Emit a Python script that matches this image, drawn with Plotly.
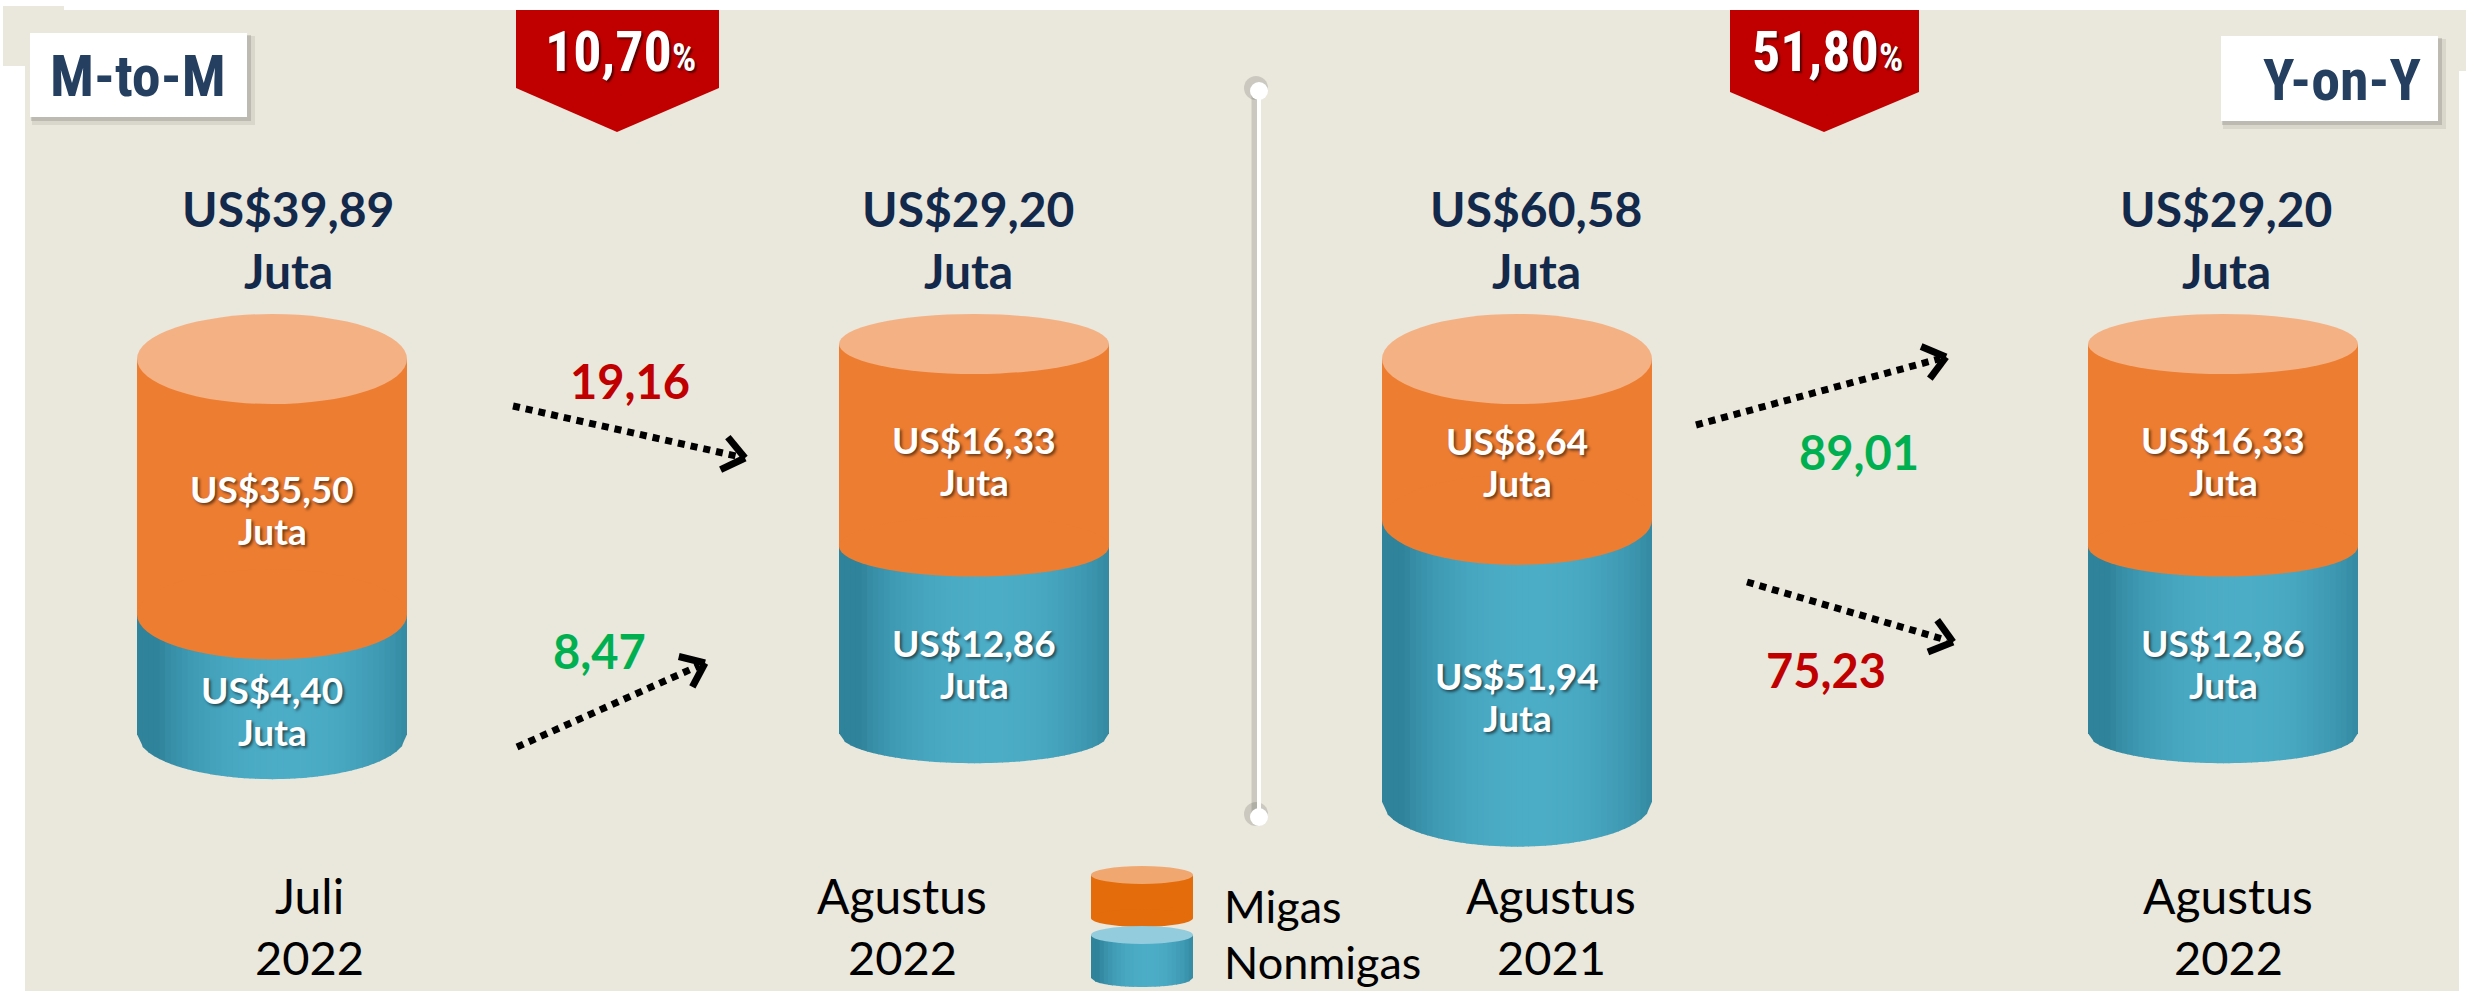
import math
import plotly.graph_objects as go

# ---------------- data ----------------
periods = ["Juli", "Agustus", "Agustus", "Agustus"]
years = ["2022", "2022", "2021", "2022"]
migas = [35.50, 16.33, 8.64, 16.33]          # US$ juta
nonmigas = [4.40, 12.86, 51.94, 12.86]       # US$ juta
totals = [39.89, 29.20, 60.58, 29.20]        # US$ juta
series_names = ["Migas", "Nonmigas"]
comparisons = ["M-to-M", "Y-on-Y"]
total_change = [10.70, 51.80]                # both decreases
change_values = [19.16, 8.47, 89.01, 75.23]  # M2M migas, M2M nonmigas, YoY migas, YoY nonmigas
change_up = [False, True, True, False]

# ---------------- layout constants (positions / styles) ----------------
W, H = 2466, 991
BG = "#EAE7DC"
NAVY = "#13294B"
BOX_NAVY = "#243F60"
RED = "#C00000"
GREEN = "#00B050"
OR_SIDE = "#ED7D31"
OR_TOP = "#F4B183"
TEAL_DARK = (47, 131, 155)
TEAL_LIGHT = (76, 173, 199)
LATO = "Lato, 'Open Sans', sans-serif"
NARROW = "'Liberation Sans Narrow', 'Arial Narrow', 'Roboto Condensed', Lato, sans-serif"

CYL_CX = [272, 974, 1517, 2223]
CYL_RX = 135
CYL_RY = [45, 30, 45, 30]
CYL_TOP = 314           # top edge of the cylinders
LOG_SCALE = 71          # px per ln(1 + US$ juta)
HEAD_X = [288, 968, 1536, 2226]
CAT_X = [309, 902, 1551, 2228]

shapes = []
ann = []
fig = go.Figure()


def fmt(v):
    return f"{v:.2f}".replace(".", ",")


def seg_height(v):
    return LOG_SCALE * math.log1p(v)


def rect(x0, y0, x1, y1, color):
    shapes.append(dict(type="rect", xref="x", yref="y", x0=x0, y0=y0, x1=x1, y1=y1,
                       fillcolor=color, line=dict(width=0), layer="below"))


def ellipse(cx, cy, rx, ry, color):
    shapes.append(dict(type="circle", xref="x", yref="y", x0=cx - rx, x1=cx + rx,
                       y0=cy - ry, y1=cy + ry, fillcolor=color, line=dict(width=0), layer="below"))


def path(d, color):
    shapes.append(dict(type="path", xref="x", yref="y", path=d, fillcolor=color,
                       line=dict(width=0), layer="below"))


def teal_color(u):
    t = max(0.0, 1.0 - ((u - 0.55) / 0.47) ** 2)
    t = t ** 0.8
    c = [round(a + (b - a) * t) for a, b in zip(TEAL_DARK, TEAL_LIGHT)]
    return f"rgb({c[0]},{c[1]},{c[2]})"


def teal_body(cx, rx, ry, y_top, y_bot, n=48):
    for i in range(n):
        xa = cx - rx + 2 * rx * i / n
        xb = cx - rx + 2 * rx * (i + 1) / n
        xb2 = min(xb + 0.8, cx + rx)
        ya = y_bot + ry * math.sqrt(max(0.0, 1 - ((xa - cx) / rx) ** 2))
        yb = y_bot + ry * math.sqrt(max(0.0, 1 - ((xb2 - cx) / rx) ** 2))
        d = f"M{xa:.2f},{y_top:.2f} L{xb2:.2f},{y_top:.2f} L{xb2:.2f},{yb:.2f} L{xa:.2f},{ya:.2f} Z"
        path(d, teal_color((i + 0.5) / n))


def text(x, y, s, size, color, family=LATO, bold=False, shadow=None, xanchor="center"):
    font = dict(size=size, color=color, family=family)
    if shadow:
        font["shadow"] = shadow
    ann.append(dict(x=x, y=y, xref="x", yref="y", text=f"<b>{s}</b>" if bold else s,
                    showarrow=False, font=font, xanchor=xanchor, yanchor="middle"))


# ---------------- background panel ----------------
rect(25, 10, 2459, H, BG)
rect(3, 6, 64, 66, BG)
rect(2459, 10, W, 71, BG)

# ---------------- comparison boxes ----------------
for (x0, y0, x1, y1), label, tx in zip([(30, 33, 247, 117), (2221, 36, 2438, 121)], comparisons, [138, 2342]):
    rect(x0 + 2, y0 + 3, x1 + 8, y1 + 8, "rgba(0,0,0,0.07)")
    rect(x0 + 1, y0 + 2, x1 + 4, y1 + 4, "rgba(0,0,0,0.13)")
    rect(x0, y0, x1, y1, "white")
    text(tx, (y0 + y1) / 2 + 1, label, 58, BOX_NAVY, family=NARROW, bold=True)

# ---------------- red change badges ----------------
badges = [(516, 719, 88, 617), (1730, 1919, 92, 1824)]
for (x0, x1, yb, xt), v in zip(badges, total_change):
    path(f"M{x0},10 L{x1},10 L{x1},{yb} L{xt},132 L{x0},{yb} Z", RED)
    text((x0 + x1) / 2 + 3, 52,
         f"{fmt(v)}<span style='font-size:38px'>%</span>", 56, "white", family=NARROW, bold=True,
         shadow="2px 2px 2px rgba(70,0,0,0.85)")

# ---------------- divider ----------------
fig.add_trace(go.Scatter(x=[1256, 1256], y=[88, 814], mode="lines+markers",
                         line=dict(color="rgba(0,0,0,0.13)", width=9),
                         marker=dict(size=24, color="rgba(0,0,0,0.13)"),
                         hoverinfo="skip", showlegend=False))
fig.add_trace(go.Scatter(x=[1259, 1259], y=[91, 817], mode="lines+markers",
                         line=dict(color="white", width=4),
                         marker=dict(size=18, color="white"),
                         hoverinfo="skip", showlegend=False))

# ---------------- cylinders ----------------
for i in range(4):
    cx, ry = CYL_CX[i], CYL_RY[i]
    top_c = CYL_TOP + ry
    bnd_c = top_c + seg_height(migas[i])
    bot_c = bnd_c + seg_height(nonmigas[i])
    teal_body(cx, CYL_RX, ry, bnd_c, bot_c)
    rect(cx - CYL_RX, top_c, cx + CYL_RX, bnd_c, OR_SIDE)
    ellipse(cx, bnd_c, CYL_RX, ry, OR_SIDE)
    ellipse(cx, top_c, CYL_RX, ry, OR_TOP)

    sh = "2px 2px 3px rgba(0,0,0,0.55)"
    ym = (top_c + bnd_c) / 2 + 0.5 * ry
    text(cx, ym - 21, f"US${fmt(migas[i])}", 37, "white", bold=True, shadow=sh)
    text(cx, ym + 21, "Juta", 37, "white", bold=True, shadow=sh)
    yn = (bnd_c + bot_c) / 2 + 0.8 * ry
    text(cx, yn - 21, f"US${fmt(nonmigas[i])}", 37, "white", bold=True, shadow=sh)
    text(cx, yn + 21, "Juta", 37, "white", bold=True, shadow=sh)

    # total above
    text(HEAD_X[i], CYL_TOP - 106, f"US${fmt(totals[i])}", 48, NAVY, bold=True)
    text(HEAD_X[i], CYL_TOP - 44, "Juta", 48, NAVY, bold=True)

    # period below
    text(CAT_X[i], 895, periods[i], 48, "black")
    text(CAT_X[i], 957, years[i], 47, "black")

# ---------------- change arrows ----------------
arrows = [((513, 406), (745, 458)), ((517, 747), (705, 663)),
          ((1696, 425), (1946, 357)), ((1747, 582), (1953, 642))]
label_pos = [(630, 381), (599, 651), (1859, 452), (1826, 670)]
for (p0, p1), (lx, ly), v, up in zip(arrows, label_pos, change_values, change_up):
    dx, dy = p1[0] - p0[0], p1[1] - p0[1]
    L = math.hypot(dx, dy)
    ux, uy = dx / L, dy / L
    fig.add_trace(go.Scatter(x=[p0[0], p1[0] - ux * 6], y=[p0[1], p1[1] - uy * 6], mode="lines",
                             line=dict(color="black", width=7, dash="7px,6px"),
                             hoverinfo="skip", showlegend=False))
    arm = 27
    hx, hy = [], []
    for sgn in (1, -1):
        a = math.radians(38) * sgn
        bx = -(ux * math.cos(a) - uy * math.sin(a))
        by = -(ux * math.sin(a) + uy * math.cos(a))
        hx += [p1[0] + bx * arm, p1[0], None]
        hy += [p1[1] + by * arm, p1[1], None]
    fig.add_trace(go.Scatter(x=hx, y=hy, mode="lines", line=dict(color="black", width=7),
                             hoverinfo="skip", showlegend=False))
    text(lx, ly, fmt(v), 47, GREEN if up else RED, bold=True)

# ---------------- legend ----------------
lcx, lrx, lry = 1142, 51, 9
rect(lcx - lrx, 875, lcx + lrx, 918, "#E46C0A")
ellipse(lcx, 918, lrx, lry, "#E46C0A")
ellipse(lcx, 875, lrx, lry, "#F0A870")
teal_body(lcx, lrx, lry, 935, 978, n=24)
ellipse(lcx, 935, lrx, lry, "#93CDDD")
text(1222, 906, series_names[0], 45, "black", xanchor="left")
text(1222, 962, series_names[1], 45, "black", xanchor="left")

fig.update_layout(
    width=W, height=H, autosize=False,
    margin=dict(l=0, r=0, t=0, b=0, pad=0),
    paper_bgcolor="white", plot_bgcolor="white",
    xaxis=dict(range=[0, W], visible=False, fixedrange=True),
    yaxis=dict(range=[H, 0], visible=False, fixedrange=True),
    shapes=shapes, annotations=ann, showlegend=False,
)

fig.write_html("out.html", config={"displayModeBar": False},
               post_script="document.body.style.margin='0px';")
